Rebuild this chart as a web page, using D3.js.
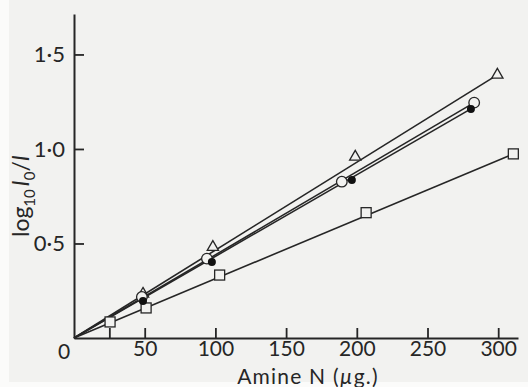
<!DOCTYPE html>
<html>
<head>
<meta charset="utf-8">
<script src="https://cdn.jsdelivr.net/npm/d3@7"></script>
<style>
  html, body { margin: 0; padding: 0; background: #fbfbfa; }
  svg { display: block; }
  text { font-family: Lato, "Open Sans", sans-serif; fill: #262626; }
</style>
</head>
<body>
<div class="chart-container"></div>
<script>
// values: amine N (µg.) against log10 I0/I
var triangleX = [48.8, 98.2, 198.9, 299.4];
var triangleY = [0.233, 0.481, 0.958, 1.392];

var openCircleX = [48, 94, 189.4, 283];
var openCircleY = [0.217, 0.42, 0.827, 1.245];

var filledCircleX = [48.8, 97.5, 196.5, 280.7];
var filledCircleY = [0.196, 0.402, 0.836, 1.212];

var squareX = [25.5, 51, 103, 206.6, 310.7];
var squareY = [0.085, 0.159, 0.333, 0.663, 0.974];

var xTicks = [25, 50, 100, 150, 200, 250, 300];
var xTickLabels = ['', '50', '100', '150', '200', '250', '300'];
var yTicks = [0.5, 1.0, 1.5];
var yTickLabels = ['0\u00b75', '1\u00b70', '1\u00b75'];

var width = 528, height = 387;
var ink = '#262626';

var svg = d3.select('.chart-container').append('svg')
  .attr('width', width)
  .attr('height', height);

// paper tone
svg.append('rect')
  .attr('x', 9).attr('y', 0)
  .attr('width', width - 9).attr('height', 382)
  .attr('fill', '#f2f2f0');

var x = d3.scaleLinear().domain([0, 314]).range([74, 518]);
var y = d3.scaleLinear().domain([0, 1.714]).range([338, 14]);

function zip(xs, ys) {
  return xs.map(function (v, i) { return { x: v, y: ys[i] }; });
}

var series = [
  { name: 'triangle', pts: zip(triangleX, triangleY) },
  { name: 'open', pts: zip(openCircleX, openCircleY) },
  { name: 'filled', pts: zip(filledCircleX, filledCircleY) },
  { name: 'square', pts: zip(squareX, squareY) }
];

// axes
var xAxis = svg.append('g')
  .attr('transform', 'translate(0,' + y(0) + ')')
  .call(d3.axisBottom(x)
    .tickValues(xTicks)
    .tickSizeInner(-10)
    .tickSizeOuter(0)
    .tickPadding(3)
    .tickFormat(function (d, i) { return xTickLabels[i]; }));

var yAxis = svg.append('g')
  .attr('transform', 'translate(' + x(0) + ',0)')
  .call(d3.axisLeft(y)
    .tickValues(yTicks)
    .tickSizeInner(-10)
    .tickSizeOuter(0)
    .tickPadding(9)
    .tickFormat(function (d, i) { return yTickLabels[i]; }));

[xAxis, yAxis].forEach(function (g) {
  g.select('.domain').attr('stroke', ink).attr('stroke-width', 2);
  g.selectAll('.tick line').attr('stroke', ink).attr('stroke-width', 1.8);
  g.selectAll('.tick text')
    .attr('fill', '#262626')
    .style('font-size', '21px')
    .style('font-family', 'Lato, "Open Sans", sans-serif');
});
yAxis.selectAll('.tick text').style('font-size', '22px');

// origin label
svg.append('text')
  .attr('x', x(0) - 10)
  .attr('y', y(0) + 21)
  .attr('text-anchor', 'middle')
  .style('font-size', '21px')
  .text('0');

// fitted lines from the origin to the last point of each series
var lineGen = d3.line()
  .x(function (d) { return x(d.x); })
  .y(function (d) { return y(d.y); });

series.forEach(function (s) {
  var last = s.pts[s.pts.length - 1];
  svg.append('path')
    .attr('d', lineGen([{ x: 0, y: 0 }, last]))
    .attr('fill', 'none')
    .attr('stroke', ink)
    .attr('stroke-width', 1.6);
});

// markers
var bg = '#f2f2f0';

svg.selectAll('.sq')
  .data(series[3].pts)
  .enter().append('rect')
  .attr('x', function (d) { return x(d.x) - 5; })
  .attr('y', function (d) { return y(d.y) - 5; })
  .attr('width', 10).attr('height', 10)
  .attr('fill', bg).attr('stroke', ink).attr('stroke-width', 1.3);

svg.selectAll('.tri')
  .data(series[0].pts)
  .enter().append('path')
  .attr('d', d3.symbol().type(d3.symbolTriangle).size(55))
  .attr('transform', function (d) { return 'translate(' + x(d.x) + ',' + y(d.y) + ')'; })
  .attr('fill', bg).attr('stroke', ink).attr('stroke-width', 1.3);

svg.selectAll('.oc')
  .data(series[1].pts)
  .enter().append('circle')
  .attr('cx', function (d) { return x(d.x); })
  .attr('cy', function (d) { return y(d.y); })
  .attr('r', 5.3)
  .attr('fill', bg).attr('stroke', ink).attr('stroke-width', 1.3);

svg.selectAll('.fc')
  .data(series[2].pts)
  .enter().append('circle')
  .attr('cx', function (d) { return x(d.x); })
  .attr('cy', function (d) { return y(d.y); })
  .attr('r', 4)
  .attr('fill', '#111');

// axis titles
var xt = svg.append('text')
  .attr('x', 308)
  .attr('y', 384)
  .attr('text-anchor', 'middle')
  .style('font-size', '21px')
  .style('letter-spacing', '1.2px');
xt.append('tspan').text('Amine N (');
xt.append('tspan').style('font-style', 'italic').text('\u00b5');
xt.append('tspan').text('g.)');

var yt = svg.append('text')
  .attr('transform', 'translate(29,196) rotate(-90)')
  .attr('text-anchor', 'middle')
  .style('font-size', '23px');
yt.append('tspan').text('log');
yt.append('tspan').attr('dy', 6).style('font-size', '15px').text('10');
yt.append('tspan').attr('dy', -6).text('\u2009');
yt.append('tspan').style('font-style', 'italic').text('I');
yt.append('tspan').attr('dy', 6).style('font-size', '15px').text('0');
yt.append('tspan').attr('dy', -6).text('/');
yt.append('tspan').style('font-style', 'italic').text('I');
</script>
</body>
</html>
